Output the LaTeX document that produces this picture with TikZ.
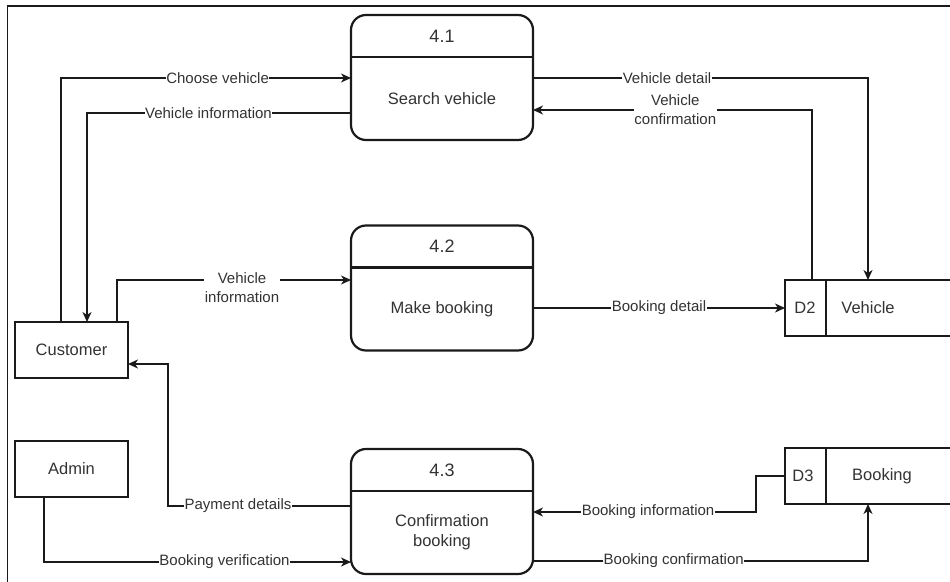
\documentclass[tikz,border=0pt]{standalone}
\usepackage{fontspec}
\setmainfont{Liberation Sans}
\usetikzlibrary{arrows.meta}
\definecolor{ink}{HTML}{1A1A1A}
\definecolor{txt}{HTML}{333333}
\tikzset{
  proc/.style={draw=ink, line width=2.2pt, rounded corners=15pt, minimum width=182pt,
    minimum height=125pt, inner sep=0pt, outer sep=0pt},
  entity/.style={draw=ink, line width=1.4pt, minimum width=113pt, minimum height=56pt,
    inner sep=0pt, outer sep=0pt, text=txt, font=\fontsize{16.5}{20}\selectfont},
  store/.style={draw=ink, line width=1.4pt, minimum width=200pt, minimum height=56pt,
    inner sep=0pt, outer sep=0pt, anchor=west},
  hdr/.style={text=txt, font=\fontsize{18}{22}\selectfont, inner sep=0pt},
  body/.style={text=txt, font=\fontsize{16.5}{20}\selectfont, align=center, inner sep=0pt},
  flow/.style={draw=ink, line width=1.3pt, -{Stealth[length=10pt,width=9pt,inset=3pt]}},
  lbl/.style={fill=white, text=txt, font=\fontsize{15}{19}\selectfont, inner sep=0.5pt, align=center},
}
\begin{document}
\begin{tikzpicture}[x=1pt,y=-1pt]
\useasboundingbox (0,0) rectangle (950,581);
\clip (0,0) rectangle (950,581);
\fill[white] (0,0) rectangle (950,581);
% outer frame
\draw[ink, line width=1.6pt] (7.5,6) rectangle (975,600);

% processes
\foreach \n/\y/\num in {a/77.5/4.1, b/288/4.2, c/511.5/4.3}{
  \node[proc] (p\n) at (442,\y) {};
  \draw[ink, line width=2.2pt] ([yshift=-42pt]p\n.north west) -- ([yshift=-42pt]p\n.north east);
  \node[hdr] (h\n) at ([yshift=-21pt]p\n.north) {\num};
}
\node[body] (ta) at ([yshift=-21pt]pa.center) {Search vehicle};
\node[body] (tb) at ([yshift=-21pt]pb.center) {Make booking};
\node[body] (tc) at ([yshift=-21pt]pc.center) {Confirmation\\booking};

% external entities
\node[entity] (cust) at (71.5,350) {Customer};
\node[entity] (admin) at (71.5,469) {Admin};

% data stores
\node[store] (d2) at (785,308) {};
\draw[ink, line width=1.4pt] ([xshift=41pt]d2.north west) -- ([xshift=41pt]d2.south west);
\node[body] (d2id) at ([xshift=20pt]d2.west) {D2};
\node[body] (d2nm) at ([xshift=83pt]d2.west) {Vehicle};

\node[store] (d3) at (785,476) {};
\draw[ink, line width=1.4pt] ([xshift=41pt]d3.north west) -- ([xshift=41pt]d3.south west);
\node[body] (d3id) at ([xshift=18pt]d3.west) {D3};
\node[body] (d3nm) at ([xshift=97pt]d3.west) {Booking};

% data flows
\draw[flow] ([xshift=-10.5pt]cust.north) |- node[lbl, pos=0.77] {Choose vehicle} ([yshift=-0.5pt]pa.west);
\draw[flow] ([yshift=-35.5pt]pa.west) -| node[lbl, pos=0.27] {Vehicle information} ([xshift=15.5pt]cust.north);
\draw[flow] ([yshift=-0.5pt]pa.east) -| node[lbl, pos=0.2] {Vehicle detail} ([xshift=-117pt]d2.north east);
\draw[flow] ([xshift=27pt]d2.north west) |- node[lbl, pos=0.745] {Vehicle\\confirmation} ([yshift=-32.5pt]pa.east);
\draw[flow] ([xshift=45.5pt]cust.north) |- ([yshift=8pt]pb.west);
\node[lbl] (lvi) at (242,288) {Vehicle\\information};
\draw[flow] ([yshift=-20pt]pb.east) -- node[lbl, pos=0.5] {Booking detail} (d2.west);
\draw[flow] ([yshift=5.5pt]pc.west) -| ([xshift=40pt,yshift=-14pt]cust.east) -- ([yshift=-14pt]cust.east);
\node[lbl] (lpd) at (238,506) {Payment details};
\draw[flow] (admin.south -| 44,0) |- node[lbl, pos=0.794] {Booking verification} ([yshift=-50.5pt]pc.west);
\draw[flow] (d3.west) -| ([xshift=-29pt,yshift=-36pt]d3.west) -- node[lbl, pos=0.484] {Booking information} ([yshift=-0.5pt]pc.east);
\draw[flow] ([yshift=-49.5pt]pc.east) -| node[lbl, pos=0.21] {Booking confirmation} ([xshift=-117pt]d3.south east);
\end{tikzpicture}
\end{document}
